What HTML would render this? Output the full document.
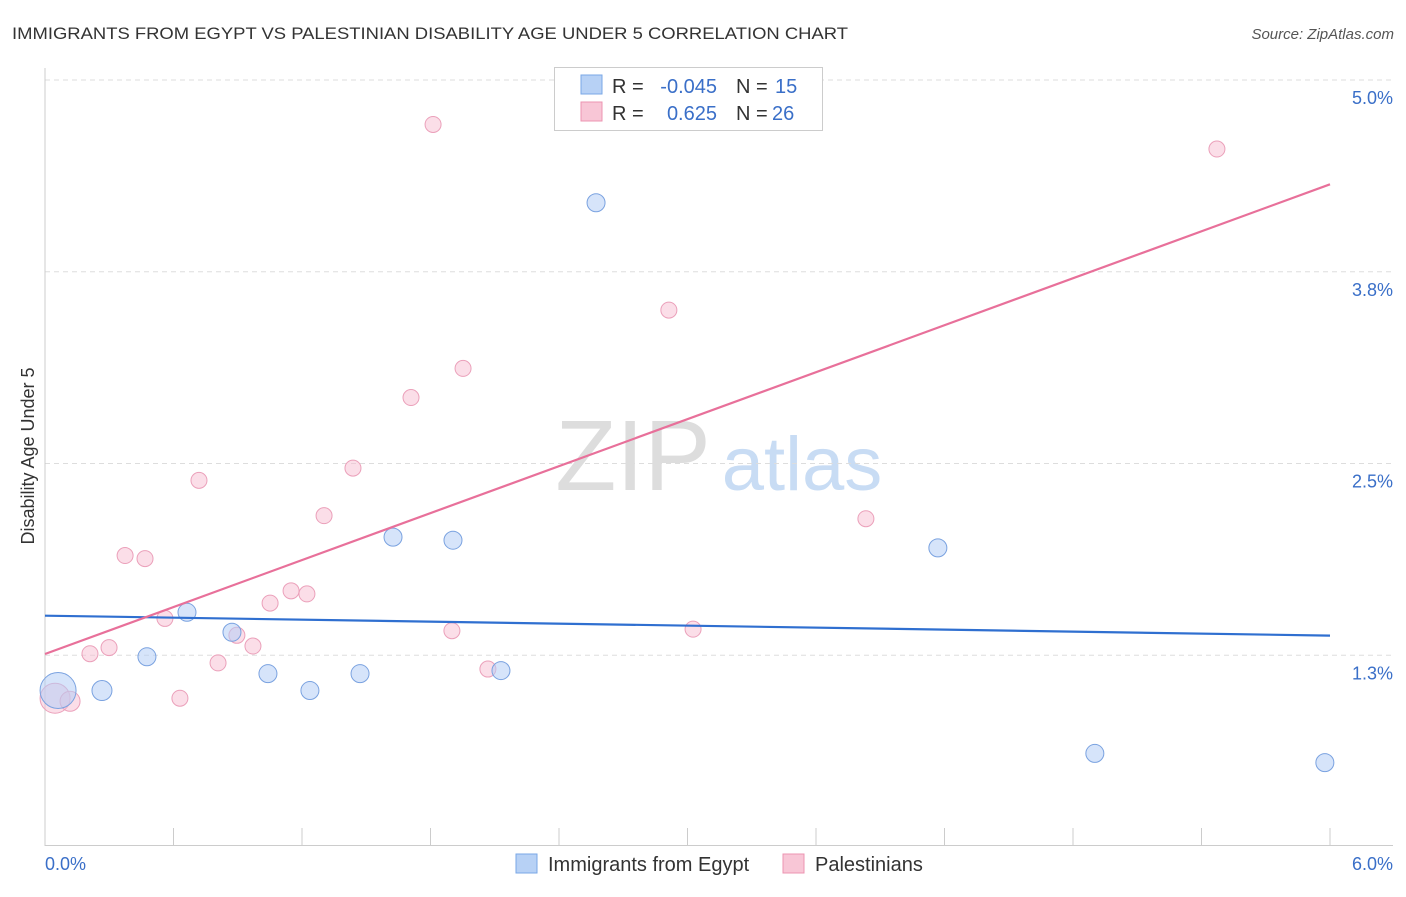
<!DOCTYPE html>
<html><head><meta charset="utf-8">
<style>
body{margin:0;background:#fff;font-family:"Liberation Sans",sans-serif;}
svg text{font-family:"Liberation Sans",sans-serif;}
</style></head>
<body>
<svg id="chart" width="1406" height="892" xmlns="http://www.w3.org/2000/svg">
<text x="12" y="39" font-size="17" fill="#333" textLength="836" lengthAdjust="spacingAndGlyphs">IMMIGRANTS FROM EGYPT VS PALESTINIAN DISABILITY AGE UNDER 5 CORRELATION CHART</text>
<text x="1394" y="39" font-size="15" fill="#555" font-style="italic" text-anchor="end">Source: ZipAtlas.com</text>
<text x="34" y="456" font-size="18" fill="#333" text-anchor="middle" transform="rotate(-90 34 456)">Disability Age Under 5</text>
<g>
<text x="633" y="490" font-size="100" fill="#ddd" font-family="Liberation Serif" text-anchor="middle">ZIP</text>
<text x="802" y="490" font-size="76" fill="#c8dcf4" text-anchor="middle">atlas</text>
</g>
<g id="grid"></g>
<g id="axes"></g>
<g id="marks"></g>
<g>
<rect x="554.5" y="67.5" width="268" height="63" fill="#fff" stroke="#ccc"/>
<rect x="581" y="75" width="21" height="19" fill="#b7d1f5" stroke="#7aa7e6"/>
<rect x="581" y="102" width="21" height="19" fill="#f8c6d6" stroke="#ec94b1"/>
<text x="612" y="93" font-size="20" fill="#333">R =</text>
<text x="717" y="93" font-size="20" fill="#3a6fc8" text-anchor="end">-0.045</text>
<text x="736" y="93" font-size="20" fill="#333">N =</text>
<text x="775" y="93" font-size="20" fill="#3a6fc8">15</text>
<text x="612" y="120" font-size="20" fill="#333">R =</text>
<text x="717" y="120" font-size="20" fill="#3a6fc8" text-anchor="end">0.625</text>
<text x="736" y="120" font-size="20" fill="#333">N =</text>
<text x="772" y="120" font-size="20" fill="#3a6fc8">26</text>
</g>
<g>
<rect x="516" y="854" width="21" height="19" fill="#b7d1f5" stroke="#7aa7e6"/>
<text x="548" y="871" font-size="20" fill="#333">Immigrants from Egypt</text>
<rect x="783" y="854" width="21" height="19" fill="#f8c6d6" stroke="#ec94b1"/>
<text x="815" y="871" font-size="20" fill="#333">Palestinians</text>
</g>
</svg>
<script>
const yTicks=[1.25,2.5,3.75,5.0];
const yTickLabels=["1.3%","2.5%","3.8%","5.0%"];
const xTickCount=10;
const xLabels=["0.0%","6.0%"];
const blueX=[0.061,0.266,0.476,0.663,0.873,1.041,1.237,1.471,1.625,1.905,2.129,2.573,4.169,4.902,5.976];
const blueY=[1.02,1.02,1.24,1.53,1.40,1.13,1.02,1.13,2.02,2.00,1.15,4.20,1.95,0.61,0.55];
const blueR=[18,10,9,9,9,9,9,9,9,9,9,9,9,9,9];
const pinkX=[0.047,0.117,0.21,0.299,0.374,0.467,0.56,0.63,0.719,0.808,0.896,0.971,1.051,1.149,1.223,1.303,1.438,1.709,1.812,1.90,1.952,2.068,2.913,3.026,3.833,5.472];
const pinkY=[0.97,0.95,1.26,1.30,1.90,1.88,1.49,0.97,2.39,1.20,1.38,1.31,1.59,1.67,1.65,2.16,2.47,2.93,4.71,1.41,3.12,1.16,3.50,1.42,2.14,4.55];
const pinkR=[15,10,8,8,8,8,8,8,8,8,8,8,8,8,8,8,8,8,8,8,8,8,8,8,8,8];
const blueTrend=[1.508,1.378];
const pinkTrend=[1.258,4.32];
const NS="http://www.w3.org/2000/svg";
const X=v=>45+v/6*1285, Y=v=>847-v*153.4;
function mk(t,a,p){const e=document.createElementNS(NS,t);for(const k in a)e.setAttribute(k,a[k]);p.appendChild(e);return e;}
const grid=document.getElementById('grid'),axes=document.getElementById('axes'),marks=document.getElementById('marks');
yTicks.forEach((t,i)=>{
 const l=mk('line',{x1:45,x2:1393,y1:Y(t),y2:Y(t),stroke:'#ddd','stroke-dasharray':'5,4'},grid);
 
 
 const tx=mk('text',{x:1393,y:Y(t)+24,'font-size':18,fill:'#3a6fc8','text-anchor':'end'},axes);
 tx.textContent=yTickLabels[i];
 
 
});
const l0=mk('line',{x1:45,x2:45,y1:68,y2:846,stroke:'#ccc'},axes);


const l1=mk('line',{x1:45,x2:1393,y1:845.5,y2:845.5,stroke:'#ccc'},axes);


for(let i=1;i<=xTickCount;i++){
 const t=mk('line',{x1:X(i*0.6),x2:X(i*0.6),y1:828,y2:846,stroke:'#ccc'},axes);
 
 
}
const xa=mk('text',{x:45,y:870,'font-size':18,fill:'#3a6fc8'},axes);xa.textContent=xLabels[0];


const xb=mk('text',{x:1393,y:870,'font-size':18,fill:'#3a6fc8','text-anchor':'end'},axes);xb.textContent=xLabels[1];


pinkX.forEach((v,i)=>{
 const c=mk('circle',{cx:X(v),cy:Y(pinkY[i]),r:pinkR[i],fill:'rgba(248,190,210,0.5)',stroke:'#eba0ba','stroke-width':1},marks);
 
 
});
blueX.forEach((v,i)=>{
 const c=mk('circle',{cx:X(v),cy:Y(blueY[i]),r:blueR[i],fill:'rgba(180,205,245,0.55)',stroke:'#7aa2e0','stroke-width':1},marks);
 
 
});
const bt=mk('line',{x1:X(0),x2:X(6),y1:Y(blueTrend[0]),y2:Y(blueTrend[1]),stroke:'#2f6fd0','stroke-width':2.2},marks);


const pt=mk('line',{x1:X(0),x2:X(6),y1:Y(pinkTrend[0]),y2:Y(pinkTrend[1]),stroke:'#e8709a','stroke-width':2.2},marks);


</script>
</body></html>
